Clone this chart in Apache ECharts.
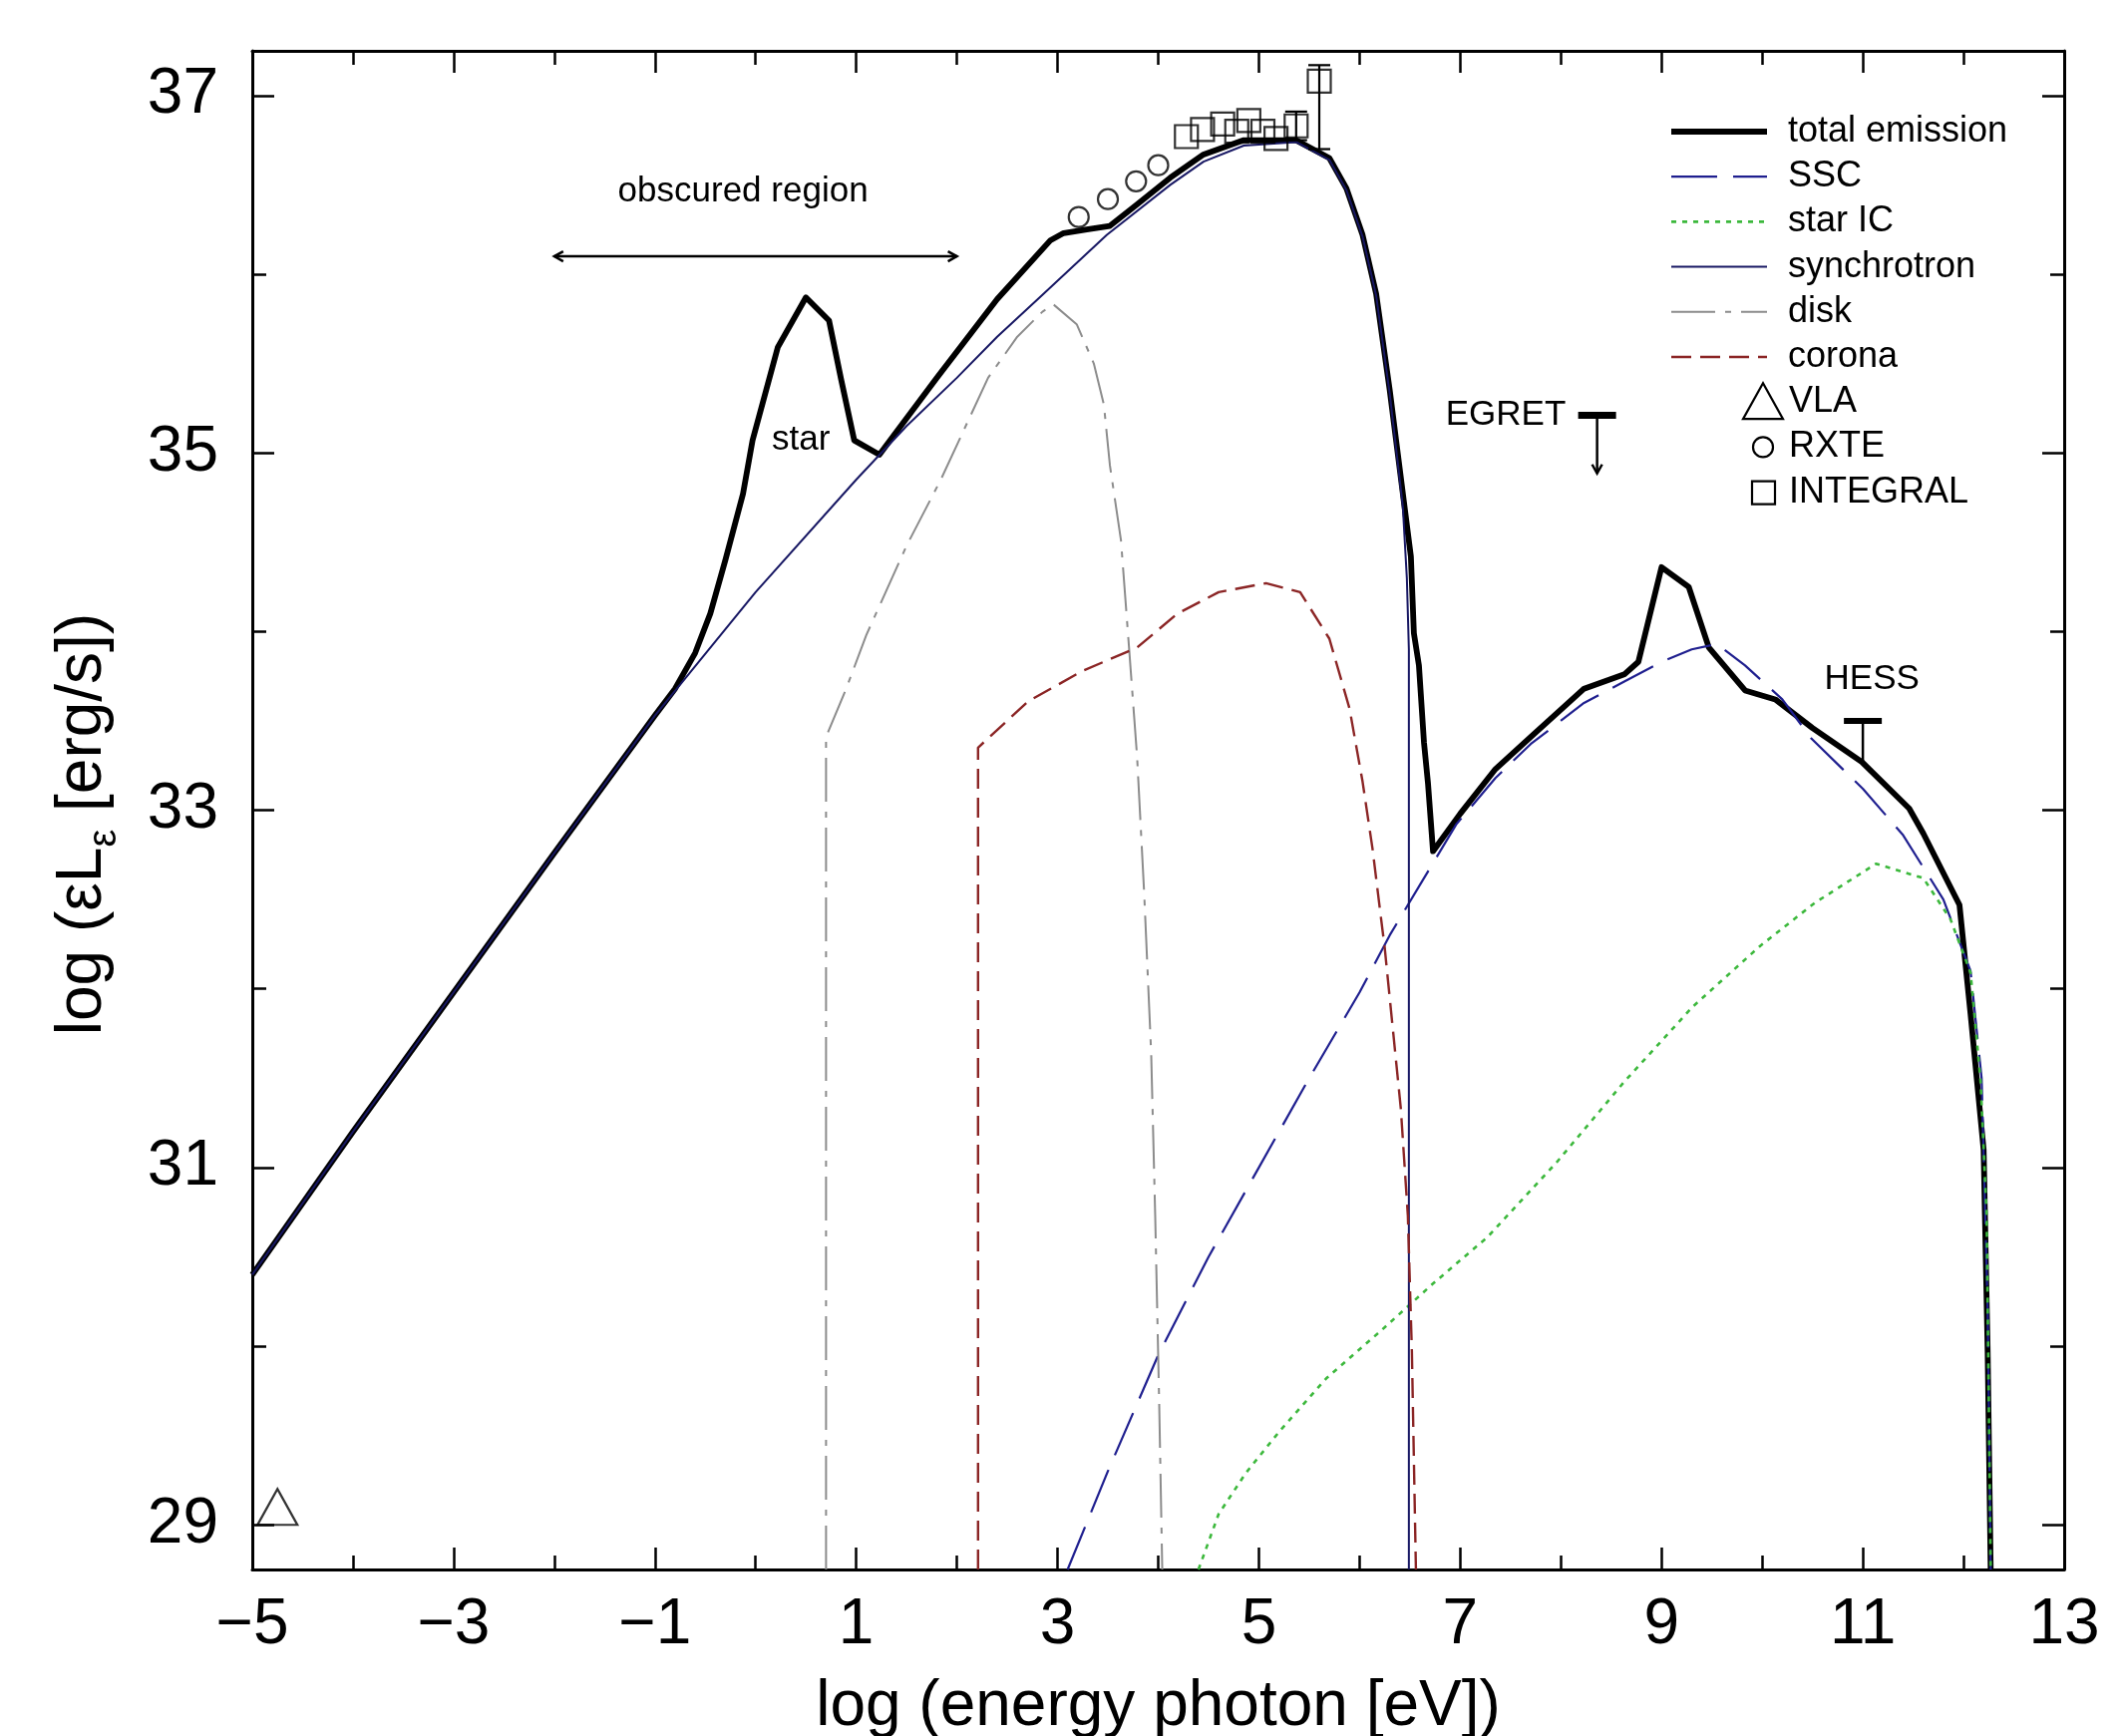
<!DOCTYPE html>
<html>
<head>
<meta charset="utf-8">
<script src="https://cdn.jsdelivr.net/npm/echarts@6/dist/echarts.min.js"></script>
<style>html,body{margin:0;padding:0;background:#fff}#c{width:2129px;height:1741px}</style>
</head>
<body>
<div id="c"></div>
<script>
// ---------------- data ----------------
const yMajorTicks = [29, 31, 33, 35, 37];
const yMinorTicks = [30, 32, 34, 36];

const totalEmission = [[-5,30.40],[-4,31.20],[-3,31.98],[-2,32.76],[-1,33.53],[-0.8,33.68],[-0.6,33.88],[-0.45,34.10],[-0.3,34.40],[-0.125,34.77],[-0.03,35.07],[0.22,35.59],[0.5,35.87],[0.73,35.74],[0.85,35.41],[0.98,35.07],[1.23,34.99],[1.8,35.42],[2.4,35.86],[2.93,36.19],[3.06,36.23],[3.29,36.25],[3.52,36.27],[3.79,36.39],[4.12,36.54],[4.45,36.67],[4.85,36.75],[5.37,36.75],[5.7,36.65],[5.87,36.48],[6.03,36.22],[6.165,35.89],[6.3,35.35],[6.46,34.64],[6.51,34.42],[6.54,33.99],[6.59,33.81],[6.64,33.38],[6.68,33.15],[6.73,32.77],[7.0,32.98],[7.35,33.23],[7.7,33.41],[8.23,33.68],[8.63,33.76],[8.77,33.83],[9.0,34.36],[9.27,34.25],[9.47,33.91],[9.83,33.67],[10.13,33.62],[10.5,33.46],[10.99,33.27],[11.46,33.01],[11.6,32.87],[11.96,32.47],[12.07,31.86],[12.2,31.1],[12.24,29.97],[12.27,28.75]];

const ssc = [[3.10,28.75],[3.5,29.3],[4.0,29.95],[4.5,30.5],[5.0,31.0],[5.5,31.5],[6.0,31.98],[6.3,32.3],[6.63,32.61],[6.96,32.92],[7.35,33.18],[7.7,33.37],[8.23,33.6],[8.63,33.72],[9.0,33.83],[9.3,33.9],[9.55,33.93],[9.83,33.81],[10.2,33.62],[10.49,33.40],[11.0,33.12],[11.4,32.86],[11.8,32.5],[12.07,32.1],[12.18,31.5],[12.24,30.2],[12.27,28.75]];

const starIC = [[4.40,28.75],[4.6,29.06],[4.87,29.29],[5.2,29.52],[5.67,29.82],[6.2,30.08],[6.73,30.35],[7.27,30.61],[7.96,31.03],[8.63,31.48],[9.31,31.9],[9.98,32.24],[10.52,32.48],[11.13,32.70],[11.6,32.62],[11.87,32.39],[12.07,32.09],[12.17,31.48],[12.23,30.73],[12.27,28.75]];

const synchrotron = [[-5,30.40],[-4,31.20],[-3,31.98],[-2,32.76],[-1,33.53],[0,34.22],[1,34.85],[1.5,35.15],[2,35.42],[2.4,35.65],[2.86,35.89],[3.49,36.22],[4.12,36.50],[4.45,36.63],[4.85,36.72],[5.37,36.74],[5.7,36.64],[5.87,36.47],[6.03,36.21],[6.165,35.88],[6.3,35.33],[6.43,34.7],[6.47,34.3],[6.49,33.9],[6.49,28.75]];

const disk = [[0.70,28.75],[0.70,33.41],[0.9,33.68],[1.1,33.98],[1.5,34.48],[1.84,34.85],[2.31,35.42],[2.6,35.65],[2.85,35.79],[2.96,35.83],[3.19,35.72],[3.36,35.50],[3.46,35.27],[3.52,34.93],[3.63,34.51],[3.71,33.91],[3.79,33.30],[3.86,32.54],[3.93,31.64],[3.97,30.73],[4.01,29.67],[4.04,28.75]];

const corona = [[2.21,28.75],[2.21,33.35],[2.71,33.61],[3.25,33.78],[3.79,33.91],[4.19,34.10],[4.6,34.22],[5.07,34.27],[5.41,34.22],[5.70,33.96],[5.90,33.57],[6.03,33.16],[6.13,32.78],[6.21,32.41],[6.25,32.23],[6.41,31.33],[6.48,30.73],[6.52,29.97],[6.56,28.75]];

const vla = [[-4.75,29.10]];
const rxte = [[3.21,36.32],[3.50,36.42],[3.78,36.52],[4.00,36.61]];
const integral = [[4.28,36.77],[4.44,36.81],[4.64,36.84],[4.78,36.80],[4.90,36.86],[5.04,36.80],[5.17,36.76],[5.37,36.83],[5.60,37.08]];
const integralErr = [[5.37,36.75,36.91],[5.60,36.70,37.17]];   // x, low, high
const egretLimit = [[8.36,35.21,34.885]];                        // x, bar, arrow tip
const hessLimit = [[11.0,33.50,33.27]];                          // x, bar, stem end
const obscuredRange = [[-2,2,36.10]];                            // x from, x to, y

const annotationText = ['obscured region','star','EGRET','HESS'];
const annotationAt = [[-0.125,36.46],[0.45,35.07],[8.05,35.21],[11.09,33.73]];

const legendLines = ['total emission','SSC','star IC','synchrotron','disk','corona'];
const legendSymbols = ['VLA','RXTE','INTEGRAL'];

// ---------------- styles ----------------
const FONT = '"Liberation Sans", Arial, Helvetica, sans-serif';
const STY = {
  'total emission': {color:'#000000', width:5.8, dash:'solid'},
  'SSC':            {color:'#1f1f8f', width:2.2, dash:[46,16]},
  'star IC':        {color:'#3cb83c', width:2.6, dash:[5,6]},
  'synchrotron':    {color:'#171763', width:2,   dash:'solid'},
  'disk':           {color:'#8c8c8c', width:2,   dash:[44,10,6,10]},
  'corona':         {color:'#8b2525', width:2.4, dash:[20,9]}
};
const labelAlign = ['center','center','right','center'];

function lineSeries(name, data) {
  const s = STY[name];
  return {
    name, type:'line', data, showSymbol:false, symbol:'none', smooth:false,
    clip:true, animation:false,
    lineStyle:{color:s.color, width:s.width, type:s.dash, cap:'butt', join:'round'}
  };
}

const chart = echarts.init(document.getElementById('c'), null, {renderer:'canvas', width:2129, height:1741});

const tickLabel = {fontFamily:FONT, fontSize:64, color:'#000'};
const xCommon = {type:'value', min:-5, max:13, interval:2, splitLine:{show:false}};
const yCommon = {type:'value', min:28.75, max:37.25, splitLine:{show:false}};
const axisLineStyle = {show:true, onZero:false, lineStyle:{color:'#000', width:3}};
const noLine = {show:false, onZero:false};

// legend drawn as graphic (gnuplot-style key)
const LEG = {x1:1676, x2:1772, tx:1793, y0:132, dy:45.2, symX:1768};
const legendGraphic = [];
legendLines.forEach((n, i) => {
  const s = STY[n], yc = LEG.y0 + i*LEG.dy;
  legendGraphic.push({type:'line', shape:{x1:LEG.x1, y1:yc, x2:LEG.x2, y2:yc},
    style:{stroke:s.color, lineWidth:s.width, lineDash:(s.dash==='solid'?null:s.dash)}});
  legendGraphic.push({type:'text', x:LEG.tx, y:yc, style:{text:n, font:'36px '+FONT, fill:'#000', align:'left', verticalAlign:'middle', textAlign:'left', textVerticalAlign:'middle'}});
});
legendSymbols.forEach((n, j) => {
  const i = legendLines.length + j, yc = LEG.y0 + i*LEG.dy;
  let shape;
  if (n === 'VLA') shape = {type:'polygon', shape:{points:[[LEG.symX-20,yc+17],[LEG.symX+20,yc+17],[LEG.symX,yc-19]]}, style:{fill:'none', stroke:'#000', lineWidth:2.2}};
  else if (n === 'RXTE') shape = {type:'circle', shape:{cx:LEG.symX, cy:yc, r:10}, style:{fill:'none', stroke:'#000', lineWidth:2.2}};
  else shape = {type:'rect', shape:{x:LEG.symX-11, y:yc-11, width:23, height:23}, style:{fill:'none', stroke:'#000', lineWidth:2.2}};
  legendGraphic.push(shape);
  legendGraphic.push({type:'text', x:LEG.tx+1, y:yc, style:{text:n, font:'36px '+FONT, fill:'#000', align:'left', verticalAlign:'middle', textAlign:'left', textVerticalAlign:'middle'}});
});

const option = {
  backgroundColor:'#ffffff',
  animation:false,
  grid:{left:253, top:51, right:59, bottom:167, containLabel:false, outerBoundsMode:'none'},
  xAxis:[
    Object.assign({}, xCommon, {position:'bottom',
      name:'log (energy photon [eV])', nameLocation:'middle', nameGap:106,
      nameTextStyle:{fontFamily:FONT, fontSize:64, color:'#000'},
      axisLine:axisLineStyle,
      axisTick:{show:true, inside:true, length:22, lineStyle:{color:'#000', width:2.5}},
      minorTick:{show:true, splitNumber:2, length:14, lineStyle:{color:'#000', width:2.5}},
      axisLabel:Object.assign({margin:24, formatter:v => (v<0 ? '\u2212'+Math.abs(v) : String(v))}, tickLabel)}),
    Object.assign({}, xCommon, {position:'top',
      axisLine:axisLineStyle,
      axisTick:{show:true, inside:true, length:22, lineStyle:{color:'#000', width:2.5}},
      minorTick:{show:true, splitNumber:2, length:14, lineStyle:{color:'#000', width:2.5}},
      axisLabel:{show:false}})
  ],
  yAxis:[
    Object.assign({}, yCommon, {position:'left',
      name:'log (\u03b5L{sub|\u03b5} [erg/s])', nameLocation:'middle', nameGap:128,
      nameTextStyle:{fontFamily:FONT, fontSize:64, color:'#000', lineHeight:64, padding:[0,28,0,0],
        rich:{sub:{fontFamily:FONT, fontSize:40, lineHeight:84, verticalAlign:'bottom', color:'#000'}}},
      axisLine:axisLineStyle,
      axisTick:{show:true, inside:true, length:22, customValues:yMajorTicks, lineStyle:{color:'#000', width:2.5}},
      axisLabel:Object.assign({margin:34, customValues:yMajorTicks}, tickLabel)}),
    Object.assign({}, yCommon, {position:'left',
      axisLine:noLine,
      axisTick:{show:true, inside:true, length:14, customValues:yMinorTicks, lineStyle:{color:'#000', width:2.5}},
      axisLabel:{show:false, customValues:yMinorTicks}}),
    Object.assign({}, yCommon, {position:'right',
      axisLine:axisLineStyle,
      axisTick:{show:true, inside:true, length:22, customValues:yMajorTicks, lineStyle:{color:'#000', width:2.5}},
      axisLabel:{show:false, customValues:yMajorTicks}}),
    Object.assign({}, yCommon, {position:'right',
      axisLine:noLine,
      axisTick:{show:true, inside:true, length:14, customValues:yMinorTicks, lineStyle:{color:'#000', width:2.5}},
      axisLabel:{show:false, customValues:yMinorTicks}})
  ],
  graphic:legendGraphic,
  series:[
    lineSeries('total emission', totalEmission),
    lineSeries('SSC', ssc),
    lineSeries('star IC', starIC),
    lineSeries('synchrotron', synchrotron),
    lineSeries('disk', disk),
    lineSeries('corona', corona),
    {name:'VLA', type:'scatter', data:vla, symbol:'triangle', symbolSize:[40,36],
      itemStyle:{color:'rgba(0,0,0,0)', borderColor:'#000', borderWidth:2.2}, z:5},
    {name:'RXTE', type:'scatter', data:rxte, symbol:'circle', symbolSize:20,
      itemStyle:{color:'rgba(0,0,0,0)', borderColor:'#000', borderWidth:2.2}, z:5},
    {name:'INTEGRAL', type:'scatter', data:integral, symbol:'rect', symbolSize:23,
      itemStyle:{color:'rgba(0,0,0,0)', borderColor:'#000', borderWidth:2.2}, z:5},
    {name:'INTEGRAL errors', type:'custom', data:integralErr, z:5,
      renderItem:(p, api) => {
        const x = api.value(0), lo = api.coord([x, api.value(1)]), hi = api.coord([x, api.value(2)]);
        const c = 11, st = {stroke:'#000', lineWidth:2.2};
        return {type:'group', children:[
          {type:'line', shape:{x1:lo[0], y1:lo[1], x2:hi[0], y2:hi[1]}, style:st},
          {type:'line', shape:{x1:hi[0]-c, y1:hi[1], x2:hi[0]+c, y2:hi[1]}, style:st},
          {type:'line', shape:{x1:lo[0]-c, y1:lo[1], x2:lo[0]+c, y2:lo[1]}, style:st}
        ]};
      }},
    {name:'EGRET', type:'custom', data:egretLimit, z:5,
      renderItem:(p, api) => {
        const x = api.value(0), top = api.coord([x, api.value(1)]), tip = api.coord([x, api.value(2)]);
        return {type:'group', children:[
          {type:'line', shape:{x1:top[0]-19, y1:top[1], x2:top[0]+19, y2:top[1]}, style:{stroke:'#000', lineWidth:7}},
          {type:'line', shape:{x1:top[0], y1:top[1], x2:tip[0], y2:tip[1]}, style:{stroke:'#000', lineWidth:2.5}},
          {type:'polyline', shape:{points:[[tip[0]-5, tip[1]-9],[tip[0], tip[1]],[tip[0]+5, tip[1]-9]]}, style:{stroke:'#000', lineWidth:2.5, fill:'none'}}
        ]};
      }},
    {name:'HESS', type:'custom', data:hessLimit, z:5,
      renderItem:(p, api) => {
        const x = api.value(0), top = api.coord([x, api.value(1)]), end = api.coord([x, api.value(2)]);
        return {type:'group', children:[
          {type:'line', shape:{x1:top[0]-19, y1:top[1], x2:top[0]+19, y2:top[1]}, style:{stroke:'#000', lineWidth:6}},
          {type:'line', shape:{x1:top[0], y1:top[1], x2:end[0], y2:end[1]}, style:{stroke:'#000', lineWidth:2.5}}
        ]};
      }},
    {name:'obscured region arrow', type:'custom', data:obscuredRange, z:5,
      renderItem:(p, api) => {
        const a = api.coord([api.value(0), api.value(2)]), b = api.coord([api.value(1), api.value(2)]);
        const st = {stroke:'#000', lineWidth:2.5, fill:'none'};
        return {type:'group', children:[
          {type:'line', shape:{x1:a[0], y1:a[1], x2:b[0], y2:b[1]}, style:st},
          {type:'polyline', shape:{points:[[a[0]+9, a[1]-5],[a[0], a[1]],[a[0]+9, a[1]+5]]}, style:st},
          {type:'polyline', shape:{points:[[b[0]-9, b[1]-5],[b[0], b[1]],[b[0]-9, b[1]+5]]}, style:st}
        ]};
      }},
    {name:'annotations', type:'custom', data:annotationAt, z:6,
      renderItem:(p, api) => {
        const pt = api.coord([api.value(0), api.value(1)]);
        const al = labelAlign[p.dataIndex];
        return {type:'text', x:pt[0], y:pt[1], style:{text:annotationText[p.dataIndex], font:'35px '+FONT, fill:'#000',
          align:al, verticalAlign:'middle', textAlign:al, textVerticalAlign:'middle'}};
      }}
  ]
};
chart.setOption(option);
</script>
</body>
</html>
